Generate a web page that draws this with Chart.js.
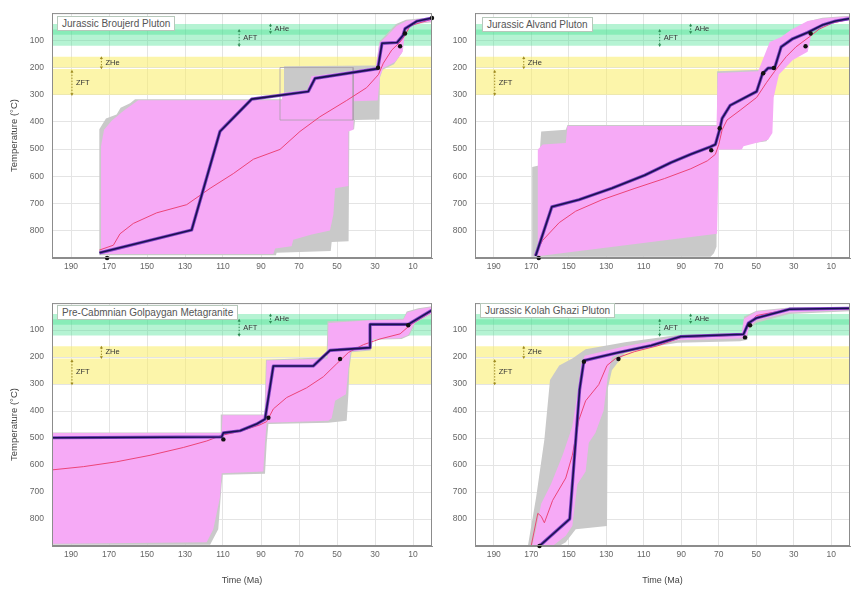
<!DOCTYPE html>
<html>
<head>
<meta charset="utf-8">
<script src="https://cdn.jsdelivr.net/npm/chart.js@4.4.1/dist/chart.umd.min.js"></script>
<style>
  html, body { margin: 0; padding: 0; background: #fff; width: 854px; height: 590px; overflow: hidden;
               font-family: "Liberation Sans", Arial, sans-serif; }
  .panel { position: absolute; }
  .tag { position: absolute; background: #fff; border: 1px solid #b7c8bb; color: #555; font-size: 10px;
         line-height: 13px; padding: 0 4px; white-space: nowrap; }
</style>
</head>
<body>
<div class="panel" style="left:0;top:0;width:440px;height:295px"><canvas id="c1"></canvas></div>
<div class="panel" style="left:434px;top:0;width:420px;height:295px"><canvas id="c2"></canvas></div>
<div class="panel" style="left:0;top:290px;width:440px;height:300px"><canvas id="c3"></canvas></div>
<div class="panel" style="left:434px;top:290px;width:420px;height:300px"><canvas id="c4"></canvas></div>

<div class="tag" style="left:57px;top:16px">Jurassic Broujerd Pluton</div>
<div class="tag" style="left:482px;top:17px">Jurassic Alvand Pluton</div>
<div class="tag" style="left:57px;top:305px">Pre-Cabmnian Golpaygan Metagranite</div>
<div class="tag" style="left:480px;top:303px">Jurassic Kolah Ghazi Pluton</div>

<script>
// ---- axes ----
const timeTicks = [190, 170, 150, 130, 110, 90, 70, 50, 30, 10];   // Ma
const tempTicks = [0, 100, 200, 300, 400, 500, 600, 700, 800, 900]; // °C

// ---- thermochronometer sensitivity zones (°C) ----
const zoneAHe = [40, 80];
const zoneAFT = [60, 120];
const zoneZHe = [160, 200];
const zoneZFT = [205, 300];

// ---- zone brackets: label, time (Ma), top and bottom temperature (°C) ----
const bracketLabels = ['AHe', 'AFT', 'ZHe', 'ZFT'];
const bracketTimes  = [85, 101.5, 174, 189.5];
const bracketTops   = [45, 65, 165, 215];
const bracketBottoms= [70, 118, 200, 298];

// ---- Jurassic Broujerd Pluton: [time Ma, temperature °C] ----
const broujerdGray = [[175.1,890],[175.1,427],[171.6,387],[166,373],[163.9,348],[158.9,331],[156.3,317],[78.2,317],[77.9,195],[29.5,193],[27.7,105],[23.5,74],[18.9,40],[13.7,24],[0,15],[0,34],[9.5,41],[14.7,73],[16,148],[20,188],[26,208],[27.4,238],[27.7,391],[40.5,393],[41,427],[43.5,429],[43.9,838],[52.8,841],[53.3,874],[81.8,881],[82.1,890]];
const broujerdGood = [[174.2,885],[174.2,489],[172.6,429],[168.6,396],[162.5,360],[157.2,333],[154.6,320],[79.1,320],[78.5,294],[65.5,282],[63.5,232],[50.2,220],[29.5,199],[27.6,110],[23,80],[18.6,47],[13.3,28],[0,17],[0,31],[8.9,37],[14.2,68],[15.4,142],[19.5,180],[25.6,202],[27.4,232],[28.6,321],[41,324],[41.4,429],[44,435],[44,635],[51,644],[51.9,740],[53.7,799],[63.3,814],[73,833],[73.9,857],[82.6,865],[83.5,885]];
const broujerdMean = [[175.1,871],[167.7,853],[164.2,811],[157.2,773],[144.9,734],[129.1,704],[116.8,644],[104.6,590],[94,537],[80,501],[69.5,435],[59,381],[44.9,321],[34.4,274],[28.2,226],[25.6,184],[21.2,136],[16.8,106],[14.2,82],[11.6,47],[0,22]];
const broujerdBest = [[175,881],[126.5,797],[111.6,435],[94.9,316],[65.1,288],[61.6,240],[28.5,204],[26.3,111],[18.4,108],[15.3,82],[14.2,57],[8,30],[0,18]];
const broujerdDots = [[171,900],[28.4,201],[16.8,122],[14.2,75],[0,18]];
const broujerdBox  = [[80,200],[41.5,200],[41.5,393],[80,393],[80,200]];

// ---- Jurassic Alvand Pluton ----
const alvandGray = [[169.5,895],[169.5,566],[166,560],[164.7,435],[151.6,429],[150.7,411],[70.9,411],[70.9,214],[48,208],[41.9,106],[35.8,88],[30.5,59],[21.7,29],[14.7,17],[0,10],[0,22],[14.7,41],[20.9,59],[23.5,142],[30.5,166],[38.4,220],[41,298],[41.9,441],[44.6,471],[56.8,483],[58.6,501],[70.9,501],[71.2,859],[72.6,883],[74.4,895]];
const alvandGood = [[166.5,895],[166.5,501],[163.9,483],[151.6,477],[150.7,415],[71.2,415],[70.5,220],[49,214],[42.8,106],[36.7,88],[31.4,61],[22.6,29],[14.7,20],[0,12],[0,24],[14.7,44],[20,61],[22.6,142],[30.5,172],[37.9,226],[40.7,310],[41.4,441],[43.7,465],[56.8,489],[57.7,501],[70,501],[70.9,811],[165.6,893]];
const alvandMean = [[168.2,889],[163.9,835],[155.1,770],[146.3,728],[132.3,686],[114.7,644],[98.9,608],[84.9,572],[76.1,543],[71.8,519],[70,483],[68.2,429],[65.6,393],[58.6,357],[49.8,310],[44.6,256],[40.2,214],[34,160],[28.8,124],[21.8,88],[16.5,59],[9.5,37],[0,22]];
const alvandBest = [[167.7,893],[159,712],[144.6,686],[127,644],[109.5,596],[95.4,549],[84.9,519],[74.4,491],[71.8,483],[69.5,427],[68.2,387],[63.9,339],[54.2,304],[49.8,288],[46.7,223],[43.7,202],[40.2,202],[36.7,124],[30.5,94],[22.6,71],[14.7,44],[7.7,29],[0,20]];
const alvandDots = [[166,900],[74,504],[69.5,423],[46.3,221],[40.6,202],[23.7,122],[21,75]];

// ---- Pre-Cambrian Golpaygan Metagranite ----
const golpayganGray = [[200,479],[111.2,479],[111.2,413],[88.2,413],[87.4,210],[55.5,201],[55,67],[15.1,58],[13.3,31],[7.2,19],[0,12],[0,40],[8.9,74],[11.9,120],[16,133],[30.9,136],[32.3,176],[42.3,182],[43.5,243],[44,338],[44.9,436],[54.6,443],[86.1,448],[87,519],[87.9,632],[110.2,636],[110.7,671],[112.5,838],[116.8,895],[200,895]];
const golpayganGood = [[200,481],[110.7,481],[110.2,415.5],[87.9,415.5],[87,213],[55,205],[54.5,74],[32.6,64],[15.1,62],[13,34.5],[7.2,22.6],[0,14],[0,38],[8.9,70],[12.5,118],[16.8,130],[31.2,133],[32.6,172],[42.8,178],[44,243],[45.3,338],[51,362],[52.8,427],[54.6,436],[87,443],[87.9,517],[88.8,624],[110.7,630],[111.6,719],[115.1,838],[118.6,886],[200,892]];
const golpayganMean = [[200,618],[183.5,606],[166,588],[148.4,564],[130.9,535],[118.6,511],[110.7,490],[101,475],[90.5,451],[87,439],[83.5,392],[76.5,350],[66,314],[57.2,273],[50.2,225],[44,183],[36.1,154],[27.4,133],[16.8,114],[11.6,82],[0,31]];
const golpayganBest = [[200,499],[110.7,496],[109.8,481],[101,473],[92.3,448],[87.9,430],[83.5,233],[62.5,233],[53.7,175],[32.6,165],[32.6,79],[12.5,79],[0,26]];
const golpayganDots = [[109.8,505],[86.1,425],[48.4,207],[12.5,82]];

// ---- Jurassic Kolah Ghazi Pluton ----
const kolahGray = [[171.8,900],[167.4,719],[163,505],[160,285],[155.1,231],[148.1,205],[141,171],[120,145],[91.9,118],[57.7,110],[56.5,50],[49.8,28.6],[32.3,16.7],[0,14],[0,30],[32.3,40],[49.8,73],[54.2,98],[54.7,136],[58.6,141.7],[91.9,147],[113,171],[120,185],[127,249],[129.1,314],[129.6,826],[146.3,838],[151.6,886],[155.1,900]];
const kolahGood = [[169.5,900],[167.4,838],[164.7,743],[159.5,671],[153.3,564],[148.1,457],[144.9,314],[143.5,230],[141.5,195],[120,159.5],[91.9,124],[57.7,114],[56.5,58],[49.8,31],[32.3,19],[0,16.7],[0,26],[32.3,34.5],[49.8,64],[53.7,88],[55.4,130],[91.9,138],[116.5,165.5],[127,201],[129.1,267],[131.4,398],[135.8,481],[139.3,517],[141,624],[145.4,671],[148.1,826],[151.6,862],[158.6,900]];
const kolahMean = [[170,898],[166.5,779],[164.7,790],[163,814],[158.6,731],[151.6,648],[148.1,564],[144.6,433],[141,362],[134,302],[129.6,231],[125,205],[115,180],[102.5,158],[90.2,128],[56.8,118],[53.3,70],[49.8,46],[32.3,23],[0,22.6]];
const kolahBest = [[165.6,900],[149.5,800],[144.2,320],[141.9,213],[123.5,183],[106,157],[90.2,124],[56.8,115.5],[54.2,74],[49.8,55],[32.3,22.6],[0,19]];
const kolahDots = [[165.6,900],[141.9,217],[123.5,207],[56,127],[53.3,82]];

// ---------------------------------------------------------------
Chart.defaults.font.family = '"Liberation Sans", Arial, sans-serif';

const toPts = arr => arr.map(pt => ({ x: pt[0], y: pt[1] }));
const band = z => toPts([[200, z[0]], [0, z[0]], [0, z[1]], [200, z[1]]]);

// frame around the plotting area
const framePlugin = {
  id: 'frame',
  afterDatasetsDraw(chart) {
    const { ctx, chartArea: a } = chart;
    ctx.save();
    ctx.strokeStyle = '#8c8c8c';
    ctx.lineWidth = 1;
    ctx.strokeRect(a.left + 0.5, a.top + 0.5, a.right - a.left - 1, a.bottom - a.top - 1);
    ctx.restore();
  }
};

// names of the zones, next to their brackets
const zoneLabelPlugin = {
  id: 'zoneLabels',
  afterDatasetsDraw(chart) {
    const { ctx } = chart;
    const x = chart.scales.x, y = chart.scales.y;
    ctx.save();
    ctx.font = '7.5px "Liberation Sans", Arial, sans-serif';
    ctx.fillStyle = '#333';
    ctx.textBaseline = 'middle';
    bracketLabels.forEach((lab, i) => {
      const px = x.getPixelForValue(bracketTimes[i]) + 4;
      const py = y.getPixelForValue((bracketTops[i] + bracketBottoms[i]) / 2);
      ctx.fillText(lab, px, py);
    });
    ctx.restore();
  }
};

function polygon(data, color, order) {
  return { data: data, fill: 'shape', backgroundColor: color, borderColor: color, borderWidth: 0,
           pointRadius: 0, tension: 0, order: order };
}
function path(data, color, width, order) {
  return { data: toPts(data), fill: false, borderColor: color, borderWidth: width,
           pointRadius: 0, tension: 0, order: order, borderJoinStyle: 'round' };
}

function makePanel(p) {
  const datasets = [];
  datasets.push({ data: toPts(p.dots), showLine: false, pointRadius: 2.2, pointBackgroundColor: '#111',
                  pointBorderColor: '#111', pointBorderWidth: 0, order: 0, clip: false });
  datasets.push(path(p.best, '#1a1250', 1.6, 1));
  datasets.push(path(p.best, '#7f42c6', 3.2, 2));
  datasets.push(path(p.mean, '#ec4478', 1, 3));
  (p.boxes || []).forEach(b => datasets.push(path(b, '#a9a0a9', 0.8, 3.5)));
  datasets.push(polygon(toPts(p.good), '#f6aaf6', 4));
  datasets.push(polygon(toPts(p.gray), '#c9c9c9', 5));
  bracketLabels.forEach((lab, i) => {
    const col = i < 2 ? '#2f8a55' : '#a08c22';
    datasets.push({
      data: [{ x: bracketTimes[i], y: bracketTops[i] }, { x: bracketTimes[i], y: bracketBottoms[i] }],
      borderColor: col, borderWidth: 1, borderDash: [1.5, 1.5], fill: false,
      pointStyle: 'triangle', pointRadius: 1.8, pointRotation: [0, 180],
      pointBackgroundColor: col, pointBorderColor: col, pointBorderWidth: 0, order: 6
    });
  });
  datasets.push(polygon(band(zoneAHe), 'rgba(70,225,145,0.40)', 7));
  datasets.push(polygon(band(zoneAFT), 'rgba(70,225,145,0.40)', 8));
  datasets.push(polygon(band(zoneZHe), 'rgba(250,236,100,0.55)', 9));
  datasets.push(polygon(band(zoneZFT), 'rgba(250,236,100,0.55)', 10));

  return new Chart(document.getElementById(p.id), {
    type: 'line',
    data: { datasets: datasets },
    plugins: [framePlugin, zoneLabelPlugin],
    options: {
      animation: false,
      responsive: true,
      maintainAspectRatio: false,
      events: [],
      layout: { padding: p.pad },
      plugins: { legend: { display: false }, tooltip: { enabled: false } },
      scales: {
        x: {
          type: 'linear', min: 0, max: 200, reverse: true,
          afterBuildTicks: s => { s.ticks = timeTicks.map(v => ({ value: v })); },
          afterFit: s => { s.height = p.xHeight; },
          ticks: { color: '#666', font: { size: 8.5 }, padding: 4, maxRotation: 0, autoSkip: false },
          grid: { color: '#e4e4e4', drawTicks: false },
          border: { color: '#8c8c8c' },
          title: { display: p.xTitle, text: 'Time (Ma)', color: '#444', font: { size: 9 },
                   padding: { top: 0, bottom: 4 } }
        },
        y: {
          type: 'linear', min: 0, max: 900, reverse: true,
          afterBuildTicks: s => { s.ticks = tempTicks.map(v => ({ value: v })); },
          afterFit: s => { s.width = p.yWidth; },
          ticks: { color: '#666', font: { size: 8.5 }, padding: 8,
                   callback: v => (v > 0 && v < 900) ? String(v) : '' },
          grid: { color: '#e4e4e4', drawTicks: false },
          border: { color: '#8c8c8c' },
          title: { display: p.yTitle, text: 'Temperature (°C)', color: '#444', font: { size: 9.5 },
                   padding: { top: 9, bottom: 0 } }
        }
      }
    }
  });
}

const panelSpecs = [
  { id: 'c1', gray: broujerdGray, good: broujerdGood, mean: broujerdMean, best: broujerdBest,
    dots: broujerdDots, boxes: [broujerdBox], yTitle: true, xTitle: false,
    yWidth: 52, xHeight: 37, pad: { top: 7, right: 8, bottom: 0, left: 0 } },
  { id: 'c2', gray: alvandGray, good: alvandGood, mean: alvandMean, best: alvandBest,
    dots: alvandDots, yTitle: false, xTitle: false,
    yWidth: 41, xHeight: 37, pad: { top: 7, right: 0, bottom: 0, left: 0 } },
  { id: 'c3', gray: golpayganGray, good: golpayganGood, mean: golpayganMean, best: golpayganBest,
    dots: golpayganDots, yTitle: true, xTitle: true,
    yWidth: 52, xHeight: 44, pad: { top: 5, right: 8, bottom: 0, left: 0 } },
  { id: 'c4', gray: kolahGray, good: kolahGood, mean: kolahMean, best: kolahBest,
    dots: kolahDots, yTitle: false, xTitle: true,
    yWidth: 41, xHeight: 44, pad: { top: 5, right: 0, bottom: 0, left: 0 } }
];
panelSpecs.forEach(makePanel);
</script>
</body>
</html>
